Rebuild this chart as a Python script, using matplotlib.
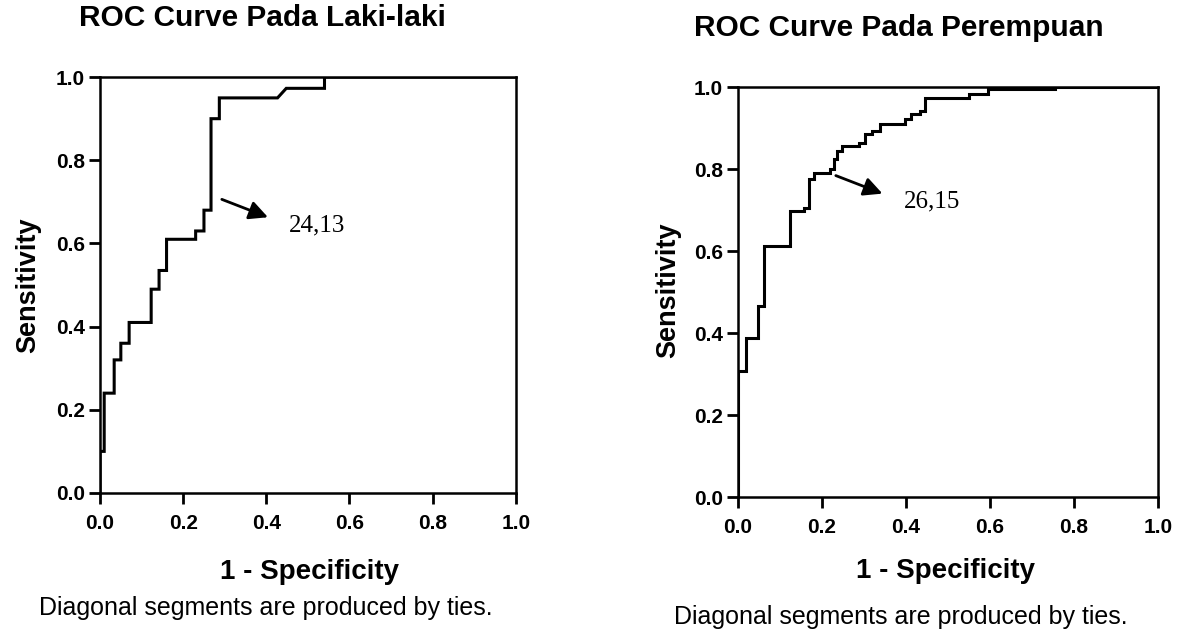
import matplotlib
matplotlib.use("Agg")
import matplotlib.pyplot as plt

# ROC points (1 - specificity, sensitivity)
male_fpr = [0.0, 0.0, 0.01, 0.01, 0.034, 0.034, 0.05, 0.05, 0.07, 0.07,
            0.123, 0.123, 0.142, 0.142, 0.16, 0.16, 0.23, 0.23, 0.25, 0.25,
            0.267, 0.267, 0.287, 0.287, 0.427, 0.448, 0.54, 0.54, 1.0]
male_tpr = [0.0, 0.10, 0.10, 0.24, 0.24, 0.32, 0.32, 0.36, 0.36, 0.41,
            0.41, 0.49, 0.49, 0.535, 0.535, 0.61, 0.61, 0.63, 0.63, 0.68,
            0.68, 0.90, 0.90, 0.95, 0.95, 0.973, 0.973, 1.0, 1.0]

female_fpr = [0.0, 0.0, 0.018, 0.018, 0.048, 0.048, 0.062, 0.062, 0.123, 0.123,
              0.157, 0.157, 0.169, 0.169, 0.18, 0.18, 0.22, 0.22, 0.228, 0.228,
              0.237, 0.237, 0.247, 0.247, 0.287, 0.287, 0.303, 0.303, 0.318, 0.318,
              0.338, 0.338, 0.398, 0.398, 0.413, 0.413, 0.434, 0.434, 0.446, 0.446,
              0.549, 0.549, 0.596, 0.596, 0.755, 0.755, 1.0]
female_tpr = [0.0, 0.307, 0.307, 0.389, 0.389, 0.466, 0.466, 0.612, 0.612, 0.698,
              0.698, 0.706, 0.706, 0.776, 0.776, 0.791, 0.791, 0.80, 0.80, 0.824,
              0.824, 0.844, 0.844, 0.856, 0.856, 0.864, 0.864, 0.885, 0.885, 0.893,
              0.893, 0.91, 0.91, 0.922, 0.922, 0.934, 0.934, 0.941, 0.941, 0.974,
              0.974, 0.984, 0.984, 0.995, 0.995, 1.0, 1.0]

ticks = [0.0, 0.2, 0.4, 0.6, 0.8, 1.0]
tick_labels = ["0.0", "0.2", "0.4", "0.6", "0.8", "1.0"]

titles = ["ROC Curve Pada Laki-laki", "ROC Curve Pada Perempuan"]
cutoff_labels = ["24,13", "26,15"]
footnote = "Diagonal segments are produced by ties."

plt.rcParams["font.family"] = ["Liberation Sans", "DejaVu Sans"]

fig = plt.figure(figsize=(11.91, 6.32), dpi=100)
ax1 = fig.add_axes([0.084, 0.220, 0.349, 0.658])
ax2 = fig.add_axes([0.6196, 0.2136, 0.3527, 0.6487])

panels = [
    (ax1, male_fpr, male_tpr, (0.293, 0.706), (0.404, 0.663), (0.454, 0.644)),
    (ax2, female_fpr, female_tpr, (0.233, 0.784), (0.344, 0.740), (0.394, 0.721)),
]

for i, (ax, fpr, tpr, tail, head, txt) in enumerate(panels):
    ax.plot(fpr, tpr, color="black", lw=2.2, solid_joinstyle="miter")
    ax.set_xlim(0, 1)
    ax.set_ylim(0, 1)
    ax.set_xticks(ticks)
    ax.set_xticklabels(tick_labels)
    ax.set_yticks(ticks)
    ax.set_yticklabels(tick_labels)
    ax.tick_params(direction="out", length=8, width=2, labelsize=15)
    ax.tick_params(axis="x", pad=7)
    ax.tick_params(axis="y", pad=3)
    for lab in ax.get_xticklabels() + ax.get_yticklabels():
        lab.set_fontweight("bold")
    for sp in ax.spines.values():
        sp.set_linewidth(1.8)
    ax.annotate("", xy=head, xytext=tail,
                arrowprops=dict(arrowstyle="-|>", color="black", lw=2,
                                mutation_scale=28, shrinkA=0, shrinkB=0))
    ax.text(txt[0], txt[1], cutoff_labels[i], fontsize=18, va="center", ha="left",
            family=["Liberation Serif", "DejaVu Serif"])

# titles, axis labels and notes placed in figure coordinates
fig.text(0.220, 0.9715, titles[0], fontsize=21.5, fontweight="bold", ha="center", va="center")
fig.text(0.755, 0.956, titles[1], fontsize=21.5, fontweight="bold", ha="center", va="center")

fig.text(0.260, 0.095, "1 - Specificity", fontsize=20, fontweight="bold", ha="center", va="center")
fig.text(0.794, 0.097, "1 - Specificity", fontsize=20, fontweight="bold", ha="center", va="center")

fig.text(0.024, 0.549, "Sensitivity", fontsize=19.5, fontweight="bold", rotation=90,
         ha="center", va="center")
fig.text(0.561, 0.541, "Sensitivity", fontsize=19.5, fontweight="bold", rotation=90,
         ha="center", va="center")

fig.text(0.223, 0.038, footnote, fontsize=18, ha="center", va="center")
fig.text(0.756, 0.024, footnote, fontsize=18, ha="center", va="center")

fig.savefig("out.png", dpi=100, facecolor="white")
